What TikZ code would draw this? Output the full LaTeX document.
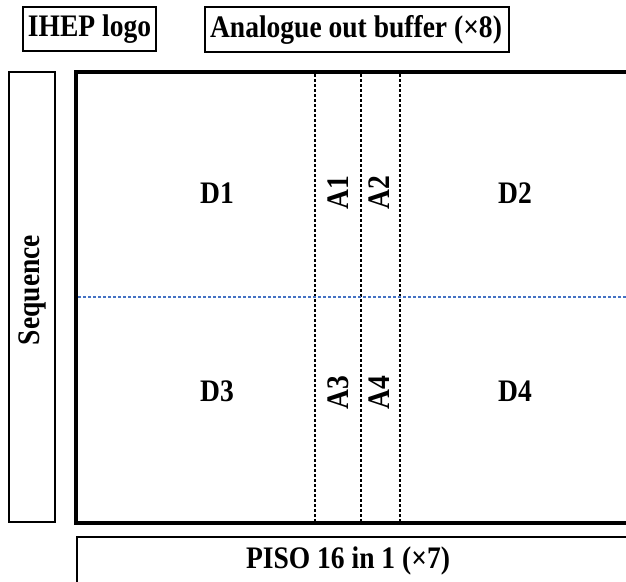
\documentclass[tikz,border=0pt]{standalone}
\usepackage{fontspec}
\setmainfont{Liberation Serif}
\definecolor{rowblue}{RGB}{68,114,196}
% labels are set slightly taller than the face's natural proportions
\newcommand{\tallbf}[1]{\scalebox{1.02}[1.16]{\fontsize{27}{30}\selectfont\bfseries #1}}
\begin{document}
\begin{tikzpicture}[x=1pt,y=-1pt,
  lbl/.style={inner sep=0pt},
  thinbox/.style={draw=black, line width=1.6pt},
  frame/.style={draw=black, line width=4pt, line cap=rect},
  split/.style={draw=black, line width=1.1pt, dash pattern=on 3pt off 2pt},
  halfline/.style={draw=rowblue, line width=1.1pt, dash pattern=on 3pt off 2pt}]
  \useasboundingbox (0,0) rectangle (626,581);

  % header blocks
  \draw[thinbox] (23,7) rectangle (156,51);
  \node[lbl] (logo) at (89.5,29) {\tallbf{IHEP logo}};
  \draw[thinbox] (205,7) rectangle (509,52);
  \node[lbl] (abuf) at (356,30) {\tallbf{Analogue out buffer (×8)}};

  % sequence block
  \draw[thinbox] (9,72) rectangle (55,522);
  \node[lbl, rotate=90] (seq) at (32,290) {\tallbf{Sequence}};

  % main pixel matrix frame (right side runs off the page)
  \draw[frame] (660,72) -- (76,72) -- (76,523) -- (660,523);

  % column and row splits
  \coordinate (c1t) at (315,74); \coordinate (c1b) at (315,521);
  \coordinate (c2t) at (361,74); \coordinate (c2b) at (361,521);
  \coordinate (c3t) at (400,74); \coordinate (c3b) at (400,521);
  \draw[split] (c1t) -- (c1b);
  \draw[split] (c2t) -- (c2b);
  \draw[split] (c3t) -- (c3b);
  \coordinate (hl) at (78,297); \coordinate (hr) at (640,297);
  \draw[halfline] (hl) -- (hr);

  % region labels
  \node[lbl] (d1) at (217,193) {\tallbf{D1}};
  \node[lbl] (d2) at (515,193) {\tallbf{D2}};
  \node[lbl] (d3) at (217,391) {\tallbf{D3}};
  \node[lbl] (d4) at (515,391) {\tallbf{D4}};
  \node[lbl, rotate=90] (a1) at (338,193) {\tallbf{A1}};
  \node[lbl, rotate=90] (a2) at (379,193) {\tallbf{A2}};
  \node[lbl, rotate=90] (a3) at (338,393) {\tallbf{A3}};
  \node[lbl, rotate=90] (a4) at (379,393) {\tallbf{A4}};

  % serialiser block at the bottom
  \draw[thinbox] (660,537) -- (77,537) -- (77,600);
  \node[lbl] (piso) at (348,561) {\tallbf{PISO 16 in 1 (×7)}};
\end{tikzpicture}
\end{document}
